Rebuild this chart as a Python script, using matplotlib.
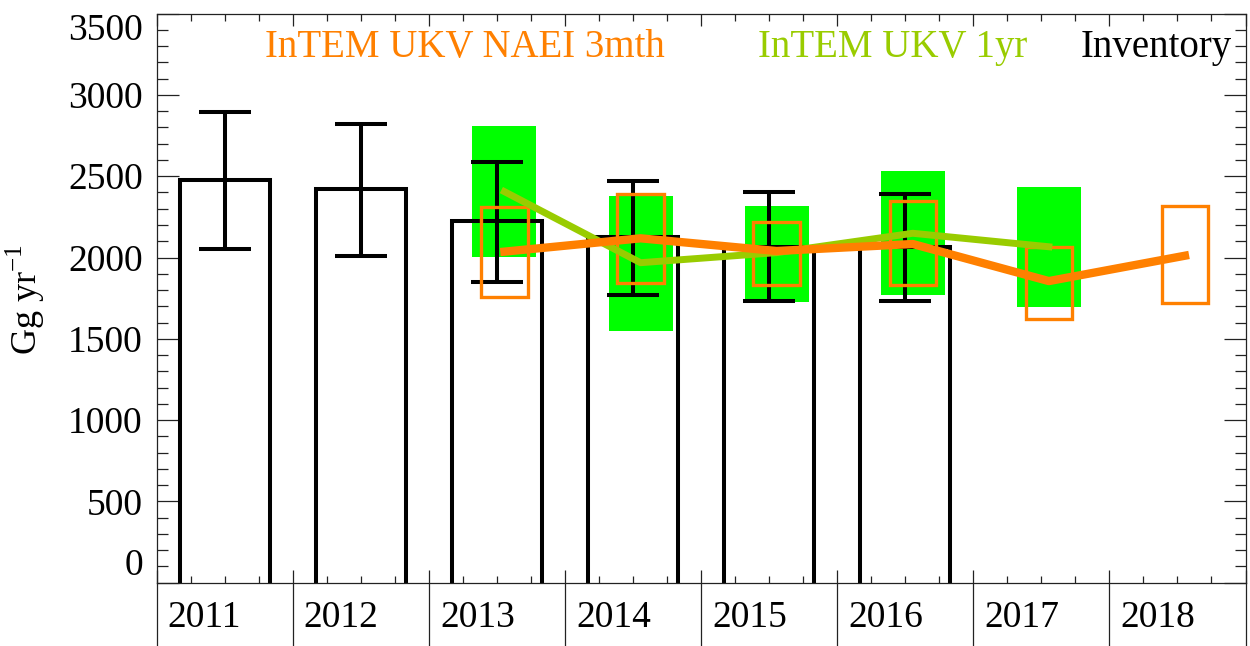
import numpy as np
import matplotlib
matplotlib.use("Agg")
import matplotlib.pyplot as plt
from matplotlib.ticker import FixedLocator, NullFormatter

# Inventory (bars with error bars)
inv_years = [2011, 2012, 2013, 2014, 2015, 2016]
inv_vals = [2477, 2421, 2226, 2128, 2066, 2066]
inv_hi = [2897, 2821, 2589, 2472, 2401, 2392]
inv_lo = [2054, 2011, 1851, 1771, 1731, 1731]

# InTEM UKV 1yr (line + green uncertainty boxes)
yr1_years = [2013, 2014, 2015, 2016, 2017]
yr1_vals = [2405, 1968, 2030, 2149, 2066]
yr1_hi = [2809, 2378, 2319, 2534, 2436]
yr1_lo = [2001, 1548, 1728, 1769, 1694]

# InTEM UKV NAEI 3mth (line + orange outline boxes)
m3_years = [2013, 2014, 2015, 2016, 2017, 2018]
m3_vals = [2036, 2118, 2040, 2083, 1855, 2011]
m3_hi = [2312, 2389, 2220, 2347, 2066, 2317]
m3_lo = [1755, 1845, 1831, 1831, 1622, 1718]

year_labels = ["2011", "2012", "2013", "2014", "2015", "2016", "2017", "2018"]
y_major = [0, 500, 1000, 1500, 2000, 2500, 3000, 3500]

ORANGE = "#FF8000"
LIME = "#00FF00"
YGREEN = "#99CC00"
AXC = "#222222"

plt.rcParams["font.family"] = ["Liberation Serif", "DejaVu Serif"]
plt.rcParams["mathtext.fontset"] = "custom"
plt.rcParams["mathtext.rm"] = "Liberation Serif"

W, H = 1250, 646
fig = plt.figure(figsize=(W / 100, H / 100), dpi=100)
x0, x1, y0, y1 = 156.7, 1245.5, 13.6, 582.7
ax = fig.add_axes([x0 / W, (H - y1) / H, (x1 - x0) / W, (y1 - y0) / H])

bar_c, bar_w = 0.5, 0.66
est_c = 0.555

iy = np.array(inv_years)
e1 = np.array(yr1_years)
e3 = np.array(m3_years)

# green boxes first
ax.bar(e1 + est_c, np.array(yr1_hi) - np.array(yr1_lo), bottom=yr1_lo,
       width=0.47, color=LIME, linewidth=0, zorder=1)

# inventory bars, open at the bottom
for yy, v in zip(iy, inv_vals):
    l, r = yy + bar_c - bar_w / 2, yy + bar_c + bar_w / 2
    ax.plot([l, l, r, r], [0, v, v, 0], color="black", lw=2.9,
            solid_joinstyle="miter", zorder=2)
inv_v = np.array(inv_vals)
ax.errorbar(iy + bar_c, inv_v, yerr=[inv_v - np.array(inv_lo), np.array(inv_hi) - inv_v],
            fmt="none", ecolor="black", elinewidth=2.9, capsize=18.4, capthick=2.9, zorder=3)

# orange boxes
ax.bar(e3 + est_c, np.array(m3_hi) - np.array(m3_lo), bottom=m3_lo,
       width=0.34, fill=False, edgecolor=ORANGE, linewidth=2.4, zorder=4)

ax.plot(e1 + est_c, yr1_vals, color=YGREEN, lw=5, zorder=5)
ax.plot(e3 + est_c, m3_vals, color=ORANGE, lw=6, zorder=6)

ax.set_xlim(2011, 2019)
ax.set_ylim(0, 3500)

# y axis
ax.yaxis.set_major_locator(FixedLocator(y_major))
ax.yaxis.set_minor_locator(FixedLocator(np.arange(0, 3501, 100)))
ax.tick_params(axis="y", which="major", direction="in", length=15.8, width=0.9,
               left=True, right=True, labelsize=27, pad=10, color=AXC)
ax.tick_params(axis="y", which="minor", direction="in", length=7.9, width=0.9,
               left=True, right=True, color=AXC)

# x axis: year edges as major, quarters as minor
edges = np.arange(2011, 2020)
quarters = [y + q for y in range(2011, 2019) for q in (0.25, 0.5, 0.75)]
ax.xaxis.set_major_locator(FixedLocator(edges))
ax.xaxis.set_minor_locator(FixedLocator(quarters))
ax.xaxis.set_major_formatter(NullFormatter())
ax.xaxis.set_minor_formatter(NullFormatter())
ax.tick_params(axis="x", which="major", direction="in", length=8.6, width=0.9,
               top=True, bottom=False, color=AXC)
ax.tick_params(axis="x", which="minor", direction="in", length=5, width=0.9,
               top=True, bottom=True, color=AXC)

# year labels sit near the left of each bin
xt = ax.get_xaxis_transform()
for yy, lab in zip(edges[:-1], year_labels):
    ax.text(yy + 11 / 136.1, -(617.5 - y1) / (y1 - y0), lab, transform=xt,
            ha="left", va="center", fontsize=27, clip_on=False)

# dividers under the axis
ax.vlines(edges, -(H - y1) / (y1 - y0), 12.7 / (y1 - y0),
          transform=xt, clip_on=False, color=AXC, lw=0.9)

for s in ax.spines.values():
    s.set_color(AXC)
    s.set_linewidth(0.9)

fig.text(25 / W, 1 - 299 / H, r"Gg yr$^{-1}$", rotation=90, ha="center", va="center",
         fontsize=26)

fig.text(265 / W, 1 - 57.3 / H, "InTEM UKV NAEI 3mth", color=ORANGE, fontsize=28,
         va="baseline", ha="left")
fig.text(758 / W, 1 - 57.3 / H, "InTEM UKV 1yr", color=YGREEN, fontsize=28,
         va="baseline", ha="left")
fig.text(1232 / W, 1 - 57.3 / H, "Inventory", color="black", fontsize=28,
         va="baseline", ha="right")

# keep the end labels inside the axis height
fig.canvas.draw()
yt = ax.yaxis.get_major_ticks()
yt[0].label1.set_verticalalignment("bottom")
yt[-1].label1.set_verticalalignment("top")

fig.savefig("out.png", dpi=100)
